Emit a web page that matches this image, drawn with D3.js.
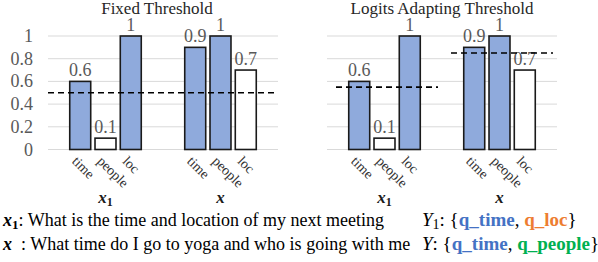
<!DOCTYPE html>
<html>
<head>
<meta charset="utf-8">
<script src="https://cdn.jsdelivr.net/npm/d3@7"></script>
<style>
  body { margin: 0; background: #fff; }
</style>
</head>
<body>
<div id="chart"></div>
<script>
var width = 598, height = 262;

// data
var categories = ["time", "people", "loc"];
var groups = ["x1", "x"];
var fixedValues = [[0.6, 0.1, 1], [0.9, 1, 0.7]];
var adaptValues = [[0.6, 0.1, 1], [0.9, 1, 0.7]];
var fixedPredicted = [[true, false, true], [true, true, false]];
var adaptPredicted = [[true, false, true], [true, true, false]];
var fixedThresholds = [0.5];
var adaptThresholds = [0.55, 0.85];
var yTicks = [0, 0.2, 0.4, 0.6, 0.8, 1];
var panelTitles = ["Fixed Threshold", "Logits Adapting Threshold"];

var serif = "'Liberation Serif', 'Times New Roman', Times, serif";

var svg = d3.select("#chart")
  .append("svg")
    .attr("width", width)
    .attr("height", height)
    .attr("font-family", serif)
    .style("font-family", serif);

var y = d3.scaleLinear()
  .domain([0, 1])
  .range([149.5, 36]);

function drawPanel(left, title, values, predicted, thresholds, showAxis) {
  var g = svg.append("g");

  var outer = d3.scaleBand()
    .domain(groups)
    .range([left, left + 230]);

  var inner = d3.scaleBand()
    .domain(categories)
    .range([0, outer.bandwidth()])
    .paddingInner(0.17)
    .paddingOuter(0.86);

  // gridlines
  g.selectAll(".grid")
    .data(yTicks)
    .enter().append("line")
      .attr("x1", left)
      .attr("x2", left + 230)
      .attr("y1", d => y(d))
      .attr("y2", d => y(d))
      .attr("stroke", "#d9d9d9")
      .attr("stroke-width", 1);

  if (showAxis) {
    g.selectAll(".ytick")
      .data(yTicks)
      .enter().append("text")
        .attr("x", 33)
        .attr("y", d => y(d) + 6)
        .attr("text-anchor", "end")
        .attr("fill", "#595959")
        .style("font-size", "18px")
        .text(d => d);
  }

  g.append("text")
    .attr("x", showAxis ? 157 : left + 115)
    .attr("y", 14)
    .attr("text-anchor", "middle")
    .attr("fill", "#262626")
    .style("font-size", "17px")
    .text(title);

  groups.forEach(function(grp, gi) {
    var x0 = outer(grp);
    var rows = categories.map((c, ci) => ({cat: c, v: values[gi][ci], on: predicted[gi][ci]}));

    g.selectAll(".bar" + gi)
      .data(rows)
      .enter().append("rect")
        .attr("x", d => x0 + inner(d.cat))
        .attr("y", d => y(d.v))
        .attr("width", inner.bandwidth())
        .attr("height", d => y(0) - y(d.v))
        .attr("fill", d => d.on ? "#8faadc" : "#ffffff")
        .attr("stroke", "#1a1a1a")
        .attr("stroke-width", 1.6);

    g.selectAll(".val" + gi)
      .data(rows)
      .enter().append("text")
        .attr("x", d => x0 + inner(d.cat) + inner.bandwidth() / 2)
        .attr("y", d => y(d.v) - 5)
        .attr("text-anchor", "middle")
        .attr("fill", "#595959")
        .style("font-size", "18px")
        .text(d => d.v);

    g.selectAll(".cat" + gi)
      .data(rows)
      .enter().append("text")
        .attr("transform", d => "translate(" + (x0 + inner(d.cat) + inner.bandwidth() / 2 - 9) + ",162) rotate(45)")
        .attr("fill", "#333")
        .style("font-size", "14px")
        .text(d => d.cat);

    var lab = g.append("text")
      .attr("x", x0 + outer.bandwidth() / 2)
      .attr("y", 203)
      .attr("text-anchor", "middle")
      .attr("fill", "#1a1a1a")
      .style("font-size", "17px")
      .style("font-weight", "bold")
      .style("font-style", "italic");
    lab.append("tspan").text("x");
    if (grp === "x1") {
      lab.append("tspan").attr("dy", 3).style("font-size", "12px").style("font-style", "normal").text("1");
    }
  });

  // threshold lines
  var dash = d3.line();
  if (thresholds.length === 1) {
    g.append("path")
      .attr("d", dash([[left, y(thresholds[0])], [left + 230, y(thresholds[0])]]))
      .attr("stroke", "#000")
      .attr("stroke-width", 1.6)
      .attr("stroke-dasharray", "6,4");
  } else {
    thresholds.forEach(function(t, gi) {
      var x0 = outer(groups[gi]);
      g.append("path")
        .attr("d", dash([[x0 + 9, y(t)], [x0 + outer.bandwidth() - 4, y(t)]]))
        .attr("stroke", "#000")
        .attr("stroke-width", 1.6)
        .attr("stroke-dasharray", "6,4");
    });
  }
}

drawPanel(48, panelTitles[0], fixedValues, fixedPredicted, fixedThresholds, true);
drawPanel(327, panelTitles[1], adaptValues, adaptPredicted, adaptThresholds, false);

// captions
var cap1 = svg.append("text").attr("x", 3).attr("y", 226).style("font-size", "18px").attr("fill", "#000");
cap1.append("tspan").style("font-weight", "bold").style("font-style", "italic").text("x");
cap1.append("tspan").attr("dy", 3).style("font-size", "13px").style("font-weight", "bold").text("1");
cap1.append("tspan").attr("dy", -3).text(": What is the time and location of my next meeting");

var cap2 = svg.append("text").attr("x", 3).attr("y", 250).style("font-size", "18px").attr("fill", "#000");
cap2.append("tspan").style("font-weight", "bold").style("font-style", "italic").text("x");
cap2.append("tspan").text("\u00a0 : What time do I go to yoga and who is going with me");

var sets = [
  {name: "Y", sub: "1", items: [["q_time", "#4472c4"], ["q_loc", "#ed7d31"]], y: 226},
  {name: "Y", sub: null, items: [["q_time", "#4472c4"], ["q_people", "#00b050"]], y: 250}
];
sets.forEach(function(s) {
  var t = svg.append("text").attr("x", 422).attr("y", s.y).style("font-size", "19px").attr("fill", "#000");
  t.append("tspan").style("font-style", "italic").text(s.name);
  if (s.sub) {
    t.append("tspan").attr("dy", 3).style("font-size", "14px").text(s.sub);
    t.append("tspan").attr("dy", -3).text(": {");
  } else {
    t.append("tspan").text(": {");
  }
  s.items.forEach(function(it, i) {
    t.append("tspan").style("font-weight", "bold").attr("fill", it[1]).text(it[0]);
    t.append("tspan").text(i < s.items.length - 1 ? ", " : "}");
  });
});
</script>
</body>
</html>
